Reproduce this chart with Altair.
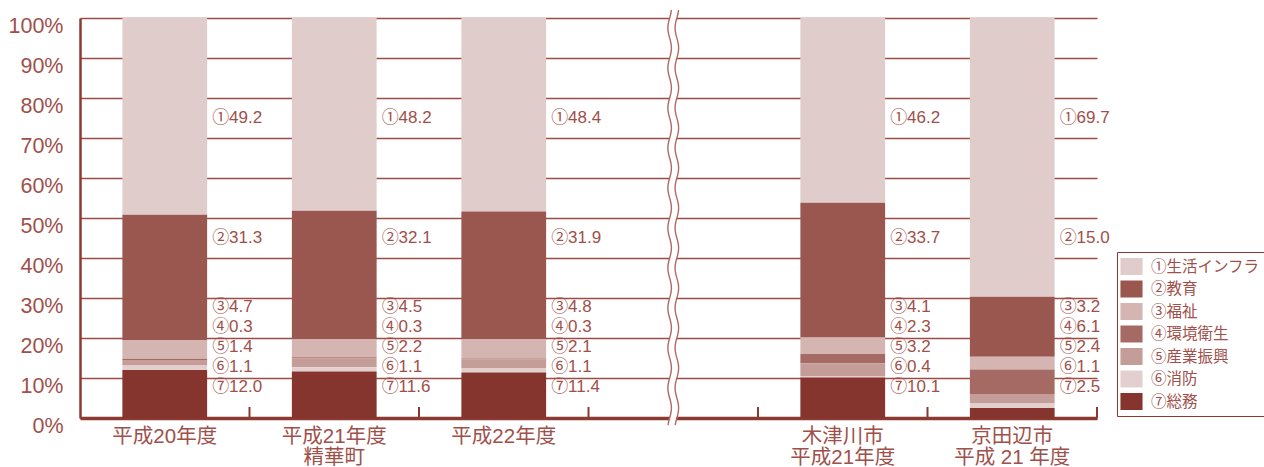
import altair as alt
import pandas as pd
import numpy as np

# ---- data -------------------------------------------------------------
groups = ["平成20年度", "平成21年度\n精華町", "平成22年度", " ",
          "木津川市\n平成21年度", "京田辺市\n平成 21 年度"]
series = ["①生活インフラ", "②教育", "③福祉", "④環境衛生", "⑤産業振興", "⑥消防", "⑦総務"]
colors = ["#e0cccb", "#9a5750", "#d4b5b2", "#a66a64", "#c49c98", "#e3d0ce", "#85352d"]

h20 = [49.2, 31.3, 4.7, 0.3, 1.4, 1.1, 12.0]
h21 = [48.2, 32.1, 4.5, 0.3, 2.2, 1.1, 11.6]
h22 = [48.4, 31.9, 4.8, 0.3, 2.1, 1.1, 11.4]
kizugawa = [46.2, 33.7, 4.1, 2.3, 3.2, 0.4, 10.1]
kyotanabe = [69.7, 15.0, 3.2, 6.1, 2.4, 1.1, 2.5]

values_by_group = {
    groups[0]: h20,
    groups[1]: h21,
    groups[2]: h22,
    groups[4]: kizugawa,
    groups[5]: kyotanabe,
}

rows = []
for g, vals in values_by_group.items():
    for i, (s, v) in enumerate(zip(series, vals)):
        rows.append({"group": g, "series": s, "value": v, "idx": i + 1,
                     "lab": s[0] + f"{v:.1f}"})
df = pd.DataFrame(rows)
tick_df = pd.DataFrame({"group": groups})

# axis-break squiggle (decoration), placed in the middle of the empty slot
brk = groups.index(" ") + 0.5
ys = np.linspace(102, -1.8, 120)
wave = 1.8 * np.sin(ys * 4 * 2 * np.pi / 40)  # pixels
sq_rows = []
for name, off in [("white", 0.0), ("left", -3.6), ("right", 3.6)]:
    for y, w in zip(ys, wave):
        sq_rows.append({"line": name, "y": y, "xs": brk + (w + off) / 169.5})
sq_df = pd.DataFrame(sq_rows)

# ---- styling ----------------------------------------------------------
TXT = "#a0504a"
AX = "#8b3a32"
FONT = "Liberation Sans, Noto Sans CJK JP"
STEP = 1017 / len(groups)

xscale = alt.Scale(domain=groups, paddingInner=0, paddingOuter=0)
yscale = alt.Scale(domain=[0, 100], nice=False, zero=True)

yaxis = alt.Axis(title=None, values=list(range(0, 101, 10)),
                 labelExpr="datum.value + '%'",
                 labelFont=FONT, labelFontSize=21.5, labelColor=TXT,
                 labelPadding=17, labelBaseline="middle", labelOffset=8,
                 ticks=False, domainColor=AX, domainWidth=2.5,
                 grid=True, gridColor="#9c4b45", gridWidth=1.5,
                 zindex=0)

bars = alt.Chart(df).mark_bar(width=alt.RelativeBandSize(0.5)).encode(
    x=alt.X("group:N", scale=xscale, sort=groups,
            axis=alt.Axis(title=None, labelAngle=0, ticks=False,
                          labelExpr="split(datum.label, '\\n')",
                          labelFont=FONT, labelFontSize=20.5, labelColor=TXT,
                          labelPadding=8, labelLineHeight=21,
                          domainColor=AX, domainWidth=3.3, zindex=0,
                          grid=False)),
    y=alt.Y("value:Q", stack="zero", scale=yscale, axis=yaxis),
    color=alt.Color("series:N", scale=alt.Scale(domain=series, range=colors),
                    legend=alt.Legend(title=None, orient="none",
                                      legendX=1037, legendY=234,
                                      symbolType="M-1.3,-1H1.3V1H-1.3Z",
                                      symbolSize=289, symbolStrokeWidth=0,
                                      symbolOpacity=1,
                                      labelFont=FONT, labelFontSize=15.5,
                                      labelColor=TXT, labelOffset=11,
                                      rowPadding=5.5, strokeColor=AX,
                                      fillColor="white", padding=6)),
    order=alt.Order("idx:Q", sort="descending"),
)

labels = alt.Chart(df).transform_calculate(
    ly="datum.idx == 1 ? 75 : (datum.idx == 2 ? 45 : 27.75 - 5 * (datum.idx - 3))"
).mark_text(align="left", baseline="middle", dx=STEP * 0.25 + 5, font=FONT,
            fontSize=17, color=TXT).encode(
    x=alt.X("group:N", scale=xscale, sort=groups, axis=None),
    y=alt.Y("ly:Q", scale=yscale, axis=yaxis, stack=None),
    text="lab:N",
)

ticks = alt.Chart(tick_df).mark_rule(color=AX, strokeWidth=2).encode(
    x=alt.X("group:N", scale=xscale, sort=groups, bandPosition=1, axis=None),
    y=alt.datum(0, scale=yscale, axis=yaxis),
    y2=alt.datum(2.75),
)

sq_x = alt.Scale(domain=[0, len(groups)], nice=False, zero=False)
sq_white = alt.Chart(sq_df).transform_filter("datum.line == 'white'").mark_line(
    color="white", strokeWidth=6.5).encode(
    x=alt.X("xs:Q", scale=sq_x, axis=None),
    y=alt.Y("y:Q", scale=yscale, axis=yaxis),
    order="y:Q",
)
sq_red = alt.Chart(sq_df).transform_filter("datum.line != 'white'").mark_line(
    color="#b06a64", strokeWidth=1.4).encode(
    x=alt.X("xs:Q", scale=sq_x, axis=None),
    y=alt.Y("y:Q", scale=yscale, axis=yaxis),
    detail="line:N",
    order="y:Q",
)

chart = alt.layer(bars, ticks, labels, sq_white, sq_red).resolve_scale(
    x="independent"
).properties(
    width=1017, height=400,
    autosize=alt.AutoSizeParams(type="none"),
    padding={"left": 80, "top": 18, "right": 167, "bottom": 49},
).configure_view(stroke=None)

chart.save("out.html", embed_options={"renderer": "svg", "actions": False})
